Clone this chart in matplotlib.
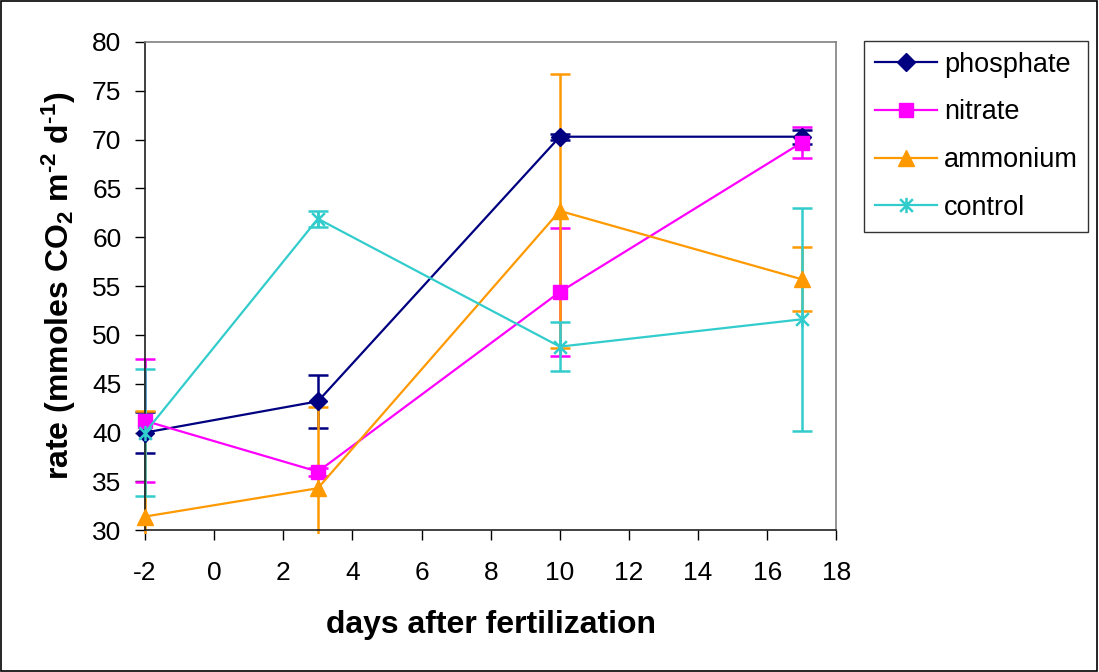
import numpy as np
import matplotlib
matplotlib.use("Agg")
from matplotlib import pyplot as plt
from matplotlib.patches import Rectangle
from matplotlib.path import Path
from matplotlib.transforms import Bbox, TransformedBbox

plt.rcParams['font.family'] = ['Liberation Sans', 'DejaVu Sans']
plt.rcParams['mathtext.fontset'] = 'custom'
plt.rcParams['mathtext.rm'] = 'Liberation Sans:bold'
plt.rcParams['mathtext.bf'] = 'Liberation Sans:bold'
plt.rcParams['mathtext.default'] = 'bf'
plt.rcParams['axes.unicode_minus'] = False

days = [-2, 3, 10, 17]

phosphate = [40.0, 43.2, 70.3, 70.3]
phosphate_err = [2.1, 2.7, 0.3, 0.7]
nitrate = [41.2, 36.0, 54.4, 69.7]
nitrate_err = [6.3, 0.4, 6.6, 1.6]
ammonium = [31.4, 34.3, 62.7, 55.7]
ammonium_err = [10.8, 8.3, 14.0, 3.3]
control = [40.0, 61.9, 48.8, 51.6]
control_err = [6.5, 0.8, 2.5, 11.4]

# excel style "star" marker: an x with a vertical bar
star = Path([(-1, -1), (1, 1), (-1, 1), (1, -1), (0, -1.2), (0, 1.2)],
            [Path.MOVETO, Path.LINETO, Path.MOVETO, Path.LINETO, Path.MOVETO, Path.LINETO])

series = [
    ('phosphate', phosphate, phosphate_err, '#000080', 'D', 9),
    ('nitrate', nitrate, nitrate_err, '#FF00FF', 's', 10),
    ('ammonium', ammonium, ammonium_err, '#FF9900', '^', 12),
    ('control', control, control_err, '#33CCCC', star, 11),
]

fig = plt.figure(figsize=(10.99, 6.72), dpi=100)
ax = fig.add_axes([0.132, 0.211, 0.629, 0.7265])
clip = TransformedBbox(Bbox([[-0.03, -0.008], [1.03, 1.02]]), ax.transAxes)

handles = []
for name, vals, errs, col, mk, ms in series:
    eb = ax.errorbar(days, vals, yerr=errs, fmt='none', ecolor=col, elinewidth=1.8,
                     capsize=7, capthick=1.8, zorder=2)
    for a in list(eb.lines[1]) + list(eb.lines[2]):
        a.set_clip_box(clip)
    h, = ax.plot(days, vals, color=col, lw=1.6, marker=mk, markersize=ms,
                 markeredgewidth=1.8 if name == 'control' else 1, markerfacecolor=col,
                 markeredgecolor=col, label=name, zorder=3, clip_on=False)
    handles.append(h)

ax.set_xlim(-2, 18)
ax.set_ylim(30, 80)
ax.set_xticks(np.arange(-2, 19, 2))
ax.set_yticks(np.arange(30, 81, 5))
ax.tick_params(labelsize=19, direction='out', length=7, width=1, color='black')
ax.tick_params(axis='x', pad=15)
ax.tick_params(axis='y', pad=10)
for s in ax.spines.values():
    s.set_color('#808080')
    s.set_linewidth(1.2)
ax.spines['left'].set_color('#202020')
ax.spines['bottom'].set_color('#202020')

ax.set_xlabel('days after fertilization', fontsize=23, fontweight='bold', labelpad=18)
ax.set_ylabel('rate (mmoles CO$_{2}$ m$^{\u20102}$ d$^{\u20101}$)', fontsize=23,
              fontweight='bold', labelpad=10)

leg = fig.legend(handles=handles, loc='upper left', bbox_to_anchor=(0.786, 0.939),
                 fontsize=19.5, frameon=True, fancybox=False, edgecolor='black',
                 handlelength=2.3, borderpad=0.4, labelspacing=0.8,
                 handletextpad=0.25, borderaxespad=0)
leg.get_frame().set_linewidth(1)

fig.patches.append(Rectangle((0.001, 0.001), 0.997, 0.997, transform=fig.transFigure,
                             fill=False, edgecolor='black', lw=1.2))

fig.savefig('out.png', dpi=100)
